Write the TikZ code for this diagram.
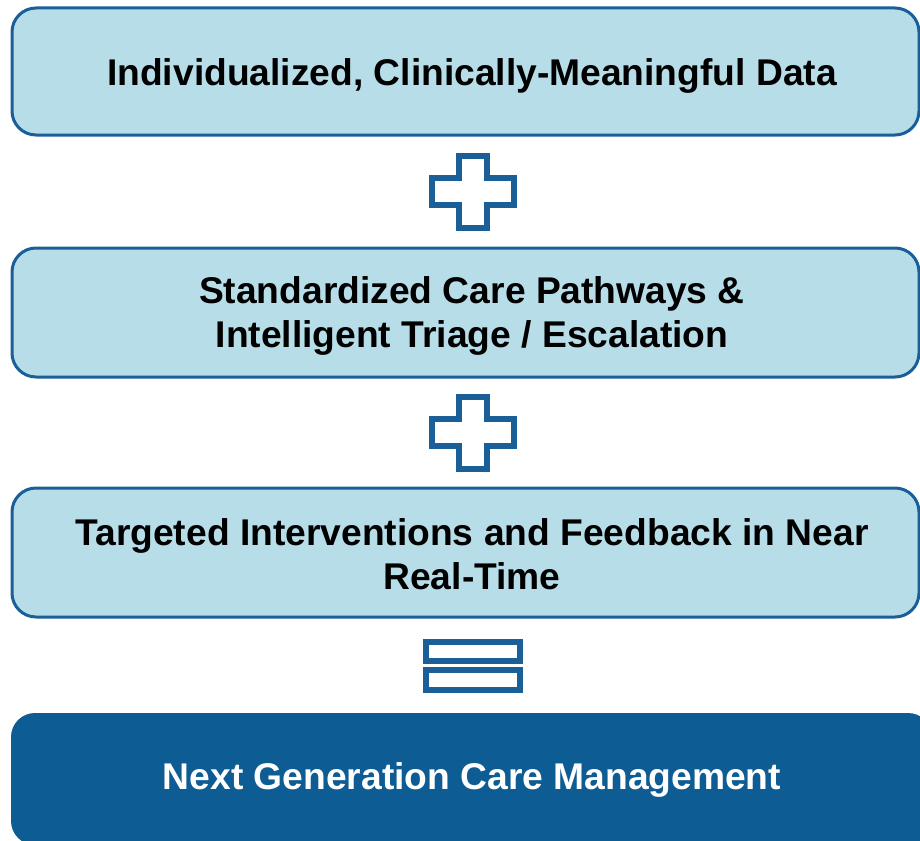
\documentclass[tikz,border=0pt]{standalone}
\usepackage{fontspec}
\setmainfont{Liberation Sans}
\definecolor{lightfill}{HTML}{B7DDE8}
\definecolor{edgeblue}{HTML}{1A5F98}
\definecolor{darkfill}{HTML}{0E5C94}
\begin{document}
\begin{tikzpicture}[x=1pt,y=-1pt,
  lightbox/.style={draw=edgeblue, line width=3pt, fill=lightfill, rounded corners=24pt},
  darkbox/.style={fill=darkfill, rounded corners=24pt},
  boxtext/.style={font=\fontsize{37.2}{44}\selectfont\bfseries, align=center, inner sep=0pt},
  symbol/.style={draw=edgeblue, line width=6pt, line join=miter}]
\useasboundingbox (0,0) rectangle (920,840);
% boxes
\draw[lightbox] (12,8) rectangle (919,135);
\draw[lightbox] (12,248) rectangle (919,377);
\draw[lightbox] (12,488) rectangle (919,617);
\fill[darkbox] (11,713) rectangle (932,845);
% texts
\node[boxtext] (t1) at (472,75.5) {Individualized, Clinically-Meaningful Data};
\node[boxtext] (t2) at (472,315.5) {Standardized Care Pathways \&\\Intelligent Triage / Escalation};
\node[boxtext] (t3) at (472,554) {Targeted Interventions and Feedback in Near\\Real-Time};
\node[boxtext, text=white] (t4) at (472,779.5) {Next Generation Care Management};
% plus signs
\draw[symbol] (459,156) -- (487,156) -- (487,178) -- (514,178) -- (514,205) -- (487,205) -- (487,228) -- (459,228) -- (459,205) -- (432,205) -- (432,178) -- (459,178) -- cycle;
\draw[symbol] (459,397) -- (487,397) -- (487,419) -- (514,419) -- (514,446) -- (487,446) -- (487,469) -- (459,469) -- (459,446) -- (432,446) -- (432,419) -- (459,419) -- cycle;
% equals sign
\draw[symbol] (426,642) rectangle (520,661);
\draw[symbol] (426,670) rectangle (520,690);
\end{tikzpicture}
\end{document}
